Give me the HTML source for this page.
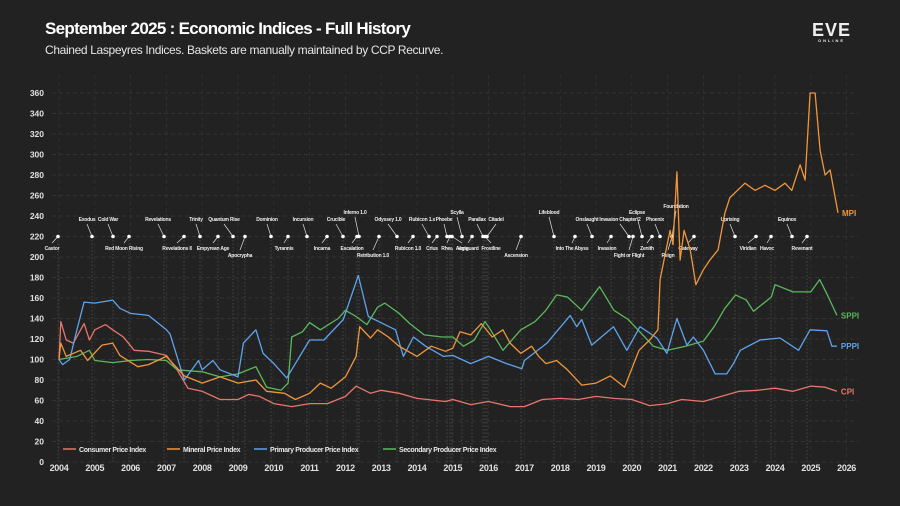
<!DOCTYPE html>
<html><head><meta charset="utf-8">
<style>
html,body{margin:0;padding:0;background:#222222;}
body{width:900px;height:506px;overflow:hidden;position:relative;font-family:"Liberation Sans","DejaVu Sans",sans-serif;}
#title{position:absolute;left:45px;top:19px;color:#fff;font-weight:bold;font-size:17px;letter-spacing:-0.7px;}
#subtitle{position:absolute;left:45px;top:43px;color:#e6e6e6;font-size:12px;letter-spacing:-0.35px;}
#logo{position:absolute;left:812px;top:22px;color:#eee;font-weight:bold;font-size:18px;letter-spacing:1px;text-align:center;line-height:16px;}
#logo small{display:block;font-size:4px;letter-spacing:2px;line-height:6px;}
svg{position:absolute;left:0;top:0;}
</style></head>
<body>
<div id="title">September 2025 : Economic Indices - Full History</div>
<div id="subtitle">Chained Laspeyres Indices. Baskets are manually maintained by CCP Recurve.</div>
<div id="logo">EVE<small>ONLINE</small></div>
<svg id="chart" width="900" height="506"></svg>
<script>
const yTicks=[0,20,40,60,80,100,120,140,160,180,200,220,240,260,280,300,320,340,360];
const xTicks=[2004,2005,2006,2007,2008,2009,2010,2011,2012,2013,2014,2015,2016,2017,2018,2019,2020,2021,2022,2023,2024,2025,2026];
const seriesNames=["Consumer Price Index","Mineral Price Index","Primary Producer Price Index","Secondary Producer Price Index"];
const seriesShort=["CPI","MPI","PPPI","SPPI"];
const seriesColors=["#e8756b","#f0963c","#5ea3ec","#5cb85c"];
const cpiYears=[2004,2004.05,2004.2,2004.4,2004.7,2004.85,2005.0,2005.3,2005.5,2005.8,2006.1,2006.5,2007.0,2007.3,2007.6,2008.0,2008.5,2009.0,2009.3,2009.6,2010.0,2010.5,2011.0,2011.5,2012.0,2012.3,2012.7,2013.0,2013.5,2014.0,2014.8,2015.0,2015.5,2016.0,2016.6,2017.0,2017.5,2018.0,2018.5,2019.0,2019.5,2020.0,2020.5,2021.0,2021.4,2022.0,2022.5,2023.0,2023.5,2024.0,2024.5,2025.0,2025.4,2025.73];
const cpiValues=[100,137,119,116,135,119,129,134,129,122,109,108,104,90,72,69,61,61,66,64,57,54,57,57,64,74,67,70,67,62,59,61,56,59,54,54,61,62,61,64,62,61,55,57,61,59,64,69,70,72,69,74,73,69];
const mpiYears=[2004,2004.05,2004.2,2004.6,2004.8,2005.2,2005.5,2005.7,2006.2,2006.5,2007.0,2007.5,2008.0,2008.5,2009.0,2009.5,2009.8,2010.3,2010.6,2011.0,2011.3,2011.6,2012.0,2012.3,2012.4,2012.7,2012.9,2013.2,2013.5,2014.0,2014.4,2014.8,2015.0,2015.2,2015.5,2015.8,2016.1,2016.4,2016.6,2016.9,2017.2,2017.4,2017.6,2017.9,2018.2,2018.6,2019.0,2019.4,2019.8,2020.2,2020.5,2020.73,2020.79,2020.9,2021.07,2021.15,2021.26,2021.35,2021.46,2021.63,2021.79,2021.99,2022.18,2022.41,2022.6,2022.74,2023.16,2023.44,2023.72,2024.0,2024.28,2024.47,2024.7,2024.84,2024.98,2025.12,2025.26,2025.4,2025.54,2025.76];
const mpiValues=[100,116,103,109,99,114,116,104,93,95,103,84,77,83,77,80,69,67,61,67,77,72,83,103,132,121,129,122,113,103,113,108,111,127,124,135,122,129,116,106,113,103,96,99,90,75,77,84,73,109,119,129,178,197,226,212,283,197,226,207,173,187,197,207,243,258,272,265,270,265,272,265,290,275,360,360,304,280,285,243];
const pppiYears=[2004,2004.1,2004.3,2004.5,2004.7,2005,2005.5,2005.7,2006,2006.5,2007,2007.1,2007.5,2007.9,2008.0,2008.3,2008.5,2009,2009.15,2009.5,2009.7,2010,2010.36,2010.55,2011,2011.4,2011.94,2012.36,2012.64,2013.4,2013.62,2013.9,2014.24,2014.74,2015.0,2015.5,2016.0,2016.5,2016.93,2017.0,2017.63,2018.28,2018.46,2018.6,2018.88,2019.49,2019.86,2020.23,2020.7,2020.98,2021.26,2021.54,2021.72,2022.0,2022.33,2022.65,2022.84,2023.03,2023.58,2024.14,2024.66,2024.98,2025.45,2025.59,2025.73];
const pppiValues=[100,95,100,129,156,155,158,150,145,143,129,125,80,99,90,99,90,83,116,129,106,96,82,93,119,119,139,182,142,129,103,122,113,103,104,96,103,96,91,99,116,143,132,139,114,132,109,132,121,106,140,114,122,109,86,86,96,109,119,121,109,129,128,113,113];
const sppiYears=[2004,2004.5,2004.85,2005.0,2005.5,2006.0,2006.5,2007.0,2007.3,2008.0,2008.5,2009.0,2009.5,2009.8,2010.2,2010.4,2010.5,2010.8,2011.0,2011.3,2011.8,2012.0,2012.3,2012.6,2012.9,2013.1,2013.5,2013.8,2014.2,2014.7,2015.0,2015.3,2015.6,2015.9,2016.0,2016.4,2016.9,2017.3,2017.6,2017.9,2018.2,2018.6,2019.1,2019.5,2019.9,2020.6,2021.0,2021.5,2022.0,2022.3,2022.6,2022.9,2023.2,2023.4,2023.9,2024.0,2024.5,2025.0,2025.25,2025.45,2025.73];
const sppiValues=[100,103,109,99,97,99,100,99,90,88,83,86,93,73,70,77,122,127,136,129,140,148,142,134,151,155,145,135,124,122,122,113,119,137,132,109,129,137,148,163,161,148,171,148,139,113,109,113,118,132,150,163,158,147,161,173,166,166,178,164,143];
const eventNames=["Castor","Exodus","Cold War","Red Moon Rising","Revelations","Revelations II","Trinity","Empyrean Age","Quantum Rise","Apocrypha","Dominion","Tyrannis","Incursion","Incarna","Crucible","Inferno 1.0","Escalation","Retribution 1.0","Odyssey 1.0","Rubicon 1.0","Rubicon 1.x","Crius","Phoebe","Rhea","Scylla","Aegis","Vanguard","Parallax","Citadel","Frostline","Ascension","Lifeblood","Into The Abyss","Onslaught","Invasion Chapter 2","Invasion","Fight or Flight","Eclipse","Zenith","Phoenix","Foundation","Reign","Gateway","Uprising","Viridian","Havoc","Equinox","Revenant"];
const eventDotPx=[58,92,113,129,164,184,200,218,233,245,271,288,307,327,343,359,357,379,397,413,429,437,447,450,462,452,472,483,487,485,521,554,575,592,629,611,633,642,652,660,672,672,694,735,756,771,792,807];
const eventLabelPx=[52,87,108,124,158,177,196,213,224,240,267,284,303,322,336,355,352,373,388,408,422,432,444,447,457,462,468,477,496,491,516,549,572,587,620,607,629,637,647,655,676,668,688,730,748,767,787,802];
const eventLevel=["d","u","u","d","u","d","u","d","u","d2","u","d","u","d","u","u2","d","d2","u","d","u","d","u","d","u2","d","d","u","u","d","d2","u2","d","u","u","d","d2","u2","d","u","u3","d2","d","u","d","d","u","d"];

const NS="http://www.w3.org/2000/svg";
const svg=document.getElementById('chart');
const X0=59,XW=35.8,Y0=462,YS=1.025;
function xs(y){return X0+(y-2004)*XW;}
function ys(v){return Y0-v*YS;}
function mk(tag,attrs,parent){const e=document.createElementNS(NS,tag);for(const k in attrs)e.setAttribute(k,attrs[k]);(parent||svg).appendChild(e);return e;}

yTicks.forEach(t=>{
  const l=mk('line',{x1:52,x2:858,y1:ys(t),y2:ys(t),stroke:'#3a3a3a','stroke-width':0.7,'stroke-dasharray':'4,3'});
  
  
  const tx=mk('text',{x:44,y:ys(t)+3,fill:'#e0e0e0','font-size':8.5,'text-anchor':'end','font-weight':'bold'});
  tx.textContent=t;
  
  
});
xTicks.forEach(t=>{
  const l=mk('line',{x1:xs(t),x2:xs(t),y1:75,y2:462,stroke:'#333','stroke-width':0.7,'stroke-dasharray':'4,3'});
  
  
  const tx=mk('text',{x:xs(t),y:471,fill:'#e0e0e0','font-size':9,'text-anchor':'middle','font-weight':'bold','letter-spacing':'-0.3'});
  tx.textContent=t;
  
  
});

const lvlY={u:221,u2:214,u3:208,d:250,d2:257};
const dotY=ys(220);
eventNames.forEach((n,i)=>{
  const dx=eventDotPx[i],lx=eventLabelPx[i],lv=eventLevel[i],ly=lvlY[lv];
  const g=mk('g',{});
  
  
  mk('line',{x1:dx,x2:dx,y1:dotY,y2:462,stroke:'#555','stroke-width':0.7,'stroke-dasharray':'1.5,2'},g);
  const up=lv[0]==='u';
  mk('line',{x1:lx,x2:dx,y1:up?ly+3:ly-7,y2:dotY,stroke:'#ddd','stroke-width':0.7},g);
  mk('circle',{cx:dx,cy:dotY,r:1.8,fill:'#fff'},g);
  const t=mk('text',{x:lx,y:ly,fill:'#eee','font-size':5,'text-anchor':'middle','font-weight':'bold','letter-spacing':'-0.2'},g);
  t.textContent=n;
});

const allYears=[cpiYears,mpiYears,pppiYears,sppiYears];
const allVals=[cpiValues,mpiValues,pppiValues,sppiValues];
const order=[0,3,2,1];
order.forEach(i=>{
  const d=allYears[i].map((y,k)=>(k?'L':'M')+xs(y).toFixed(1)+','+ys(allVals[i][k]).toFixed(1)).join(' ');
  const p=mk('path',{d:d,fill:'none',stroke:seriesColors[i],'stroke-width':1.3,'stroke-linejoin':'round'});
  
  
  const yl=allYears[i],vl=allVals[i];
  const t=mk('text',{x:xs(yl[yl.length-1])+4,y:ys(vl[vl.length-1])+3,fill:seriesColors[i],'font-size':8,'font-weight':'bold'});
  t.textContent=seriesShort[i];
  
  
});

let lx=63;
const widths=[104,87,129,150];
seriesNames.forEach((n,i)=>{
  const g=mk('g',{});
  
  
  mk('line',{x1:lx,x2:lx+13,y1:449,y2:449,stroke:seriesColors[i],'stroke-width':1.5},g);
  const t=mk('text',{x:lx+16,y:452,fill:'#e6e6e6','font-size':7,'font-weight':'bold','letter-spacing':'-0.35'},g);
  t.textContent=n;
  lx+=widths[i];
});
</script>
</body></html>
